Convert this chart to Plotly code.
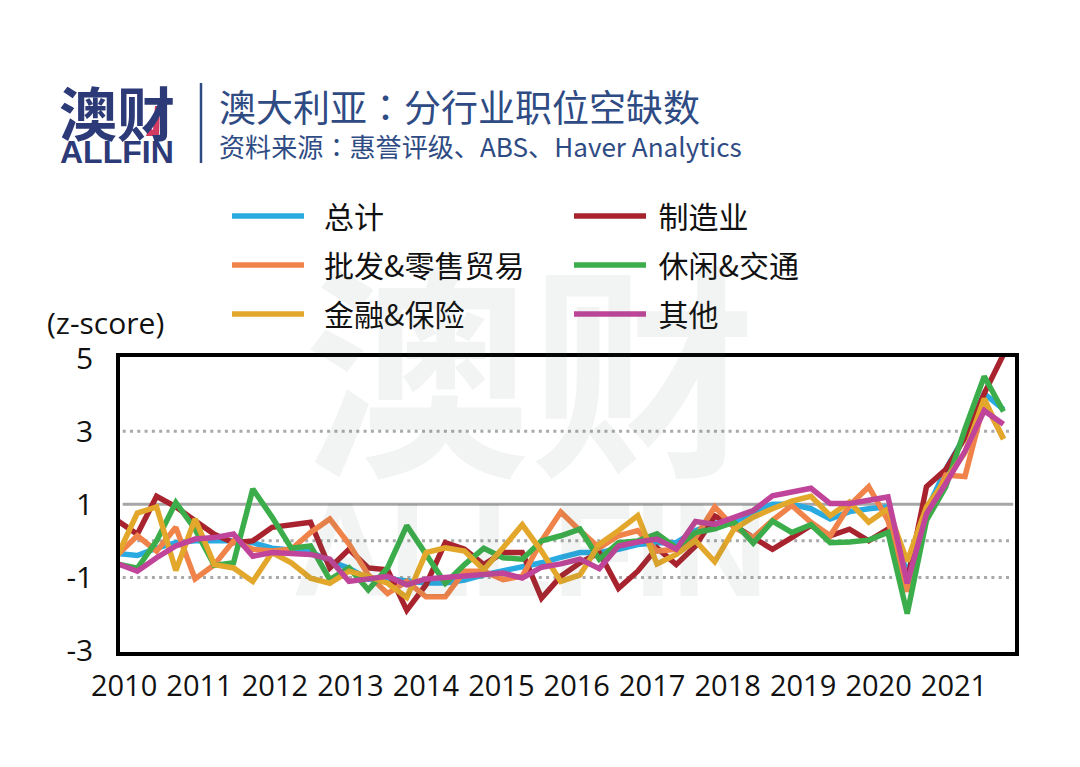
import plotly.graph_objects as go

W, H = 1080, 767
L, R, T, B = 120, 65, 357, 115
quarters = list(range(47))  # 2010Q1 .. 2021Q3
year_labels = ["2010","2011","2012","2013","2014","2015","2016","2017","2018","2019","2020","2021"]
y_ticks = [5, 3, 1, -1, -3]

total = [-0.35,-0.4,-0.2,-0.05,0.0,0.0,0.0,-0.05,-0.2,-0.25,-0.3,-0.55,-0.75,-1.05,-1.03,-1.1,-1.15,-1.15,-1.07,-0.93,-0.83,-0.72,-0.6,-0.45,-0.32,-0.32,-0.23,-0.1,-0.05,-0.05,0.28,0.48,0.5,0.8,1.0,1.0,0.88,0.6,0.8,0.88,0.93,-0.93,0.83,1.95,2.87,4.03,3.6]
manufacturing = [0.54,0.18,1.22,0.93,0.55,0.18,-0.05,0.0,0.37,0.44,0.51,-0.74,-0.23,-0.74,-0.79,-1.9,-1.2,-0.05,-0.23,-0.65,-0.32,-0.32,-1.57,-0.97,-0.6,-0.32,-1.3,-0.83,-0.19,-0.65,-0.14,0.68,0.42,0.09,-0.23,0.09,0.42,0.14,0.32,0.0,0.32,-1.11,1.48,1.95,2.82,4.03,5.1]
retail = [-0.37,0.14,-0.28,0.37,-1.04,-0.65,0.0,-0.23,-0.28,-0.23,0.23,0.6,-0.09,-0.93,-1.44,-1.11,-1.53,-1.53,-0.83,-0.83,-1.06,-0.97,0.0,0.79,0.28,-0.19,0.14,0.28,-0.28,-0.23,0.09,0.93,0.37,0.09,0.56,0.97,0.51,0.14,0.97,1.48,0.56,-1.39,0.65,1.8,1.76,3.8,2.8]
leisure = [-0.64,-0.75,0.0,1.05,0.32,-0.67,-0.6,1.42,0.65,-0.2,-0.14,-1.06,-0.74,-1.34,-0.74,0.42,-0.37,-1.16,-0.65,-0.2,-0.46,-0.5,0.0,0.14,0.32,-0.5,-0.05,0.0,0.19,-0.19,0.23,0.33,0.51,-0.06,0.54,0.23,0.44,-0.05,-0.03,0.02,0.23,-1.99,0.56,1.48,3.06,4.5,3.54]
finance = [-0.37,0.76,0.93,-0.81,0.6,-0.65,-0.74,-1.11,-0.32,-0.6,-1.02,-1.16,-0.83,-0.97,-1.16,-1.55,-0.32,-0.19,-0.28,-0.79,-0.19,0.44,-0.28,-1.11,-0.93,-0.09,0.28,0.69,-0.63,-0.37,0.0,-0.57,0.32,0.65,0.88,1.09,1.22,0.69,1.06,0.51,0.88,-0.56,0.93,1.67,2.41,3.89,2.78]
other = [-0.63,-0.83,-0.46,-0.14,0.05,0.09,0.19,-0.42,-0.32,-0.34,-0.37,-0.5,-1.11,-1.04,-0.97,-1.2,-1.04,-1.0,-0.95,-0.93,-0.88,-1.02,-0.72,-0.63,-0.5,-0.76,-0.14,-0.03,0.05,-0.23,0.53,0.45,0.65,0.83,1.23,1.32,1.44,1.02,1.02,1.11,1.2,-1.16,0.74,1.57,2.45,3.56,3.19]

series = [
    ("总计", total, "#29abe2", "legend"),
    ("制造业", manufacturing, "#a8232e", "legend2"),
    ("批发&零售贸易", retail, "#f0834a", "legend"),
    ("休闲&交通", leisure, "#3bad4a", "legend2"),
    ("金融&保险", finance, "#e3a82b", "legend"),
    ("其他", other, "#c0449a", "legend2"),
]

CJK = "Noto Sans CJK SC"
NAVY = "#2f4b84"
LOGO = "#2c3a78"
LEAD = {"legend": "\u2002", "legend2": "\u2005"}

fig = go.Figure()
for name, vals, color, leg in series:
    fig.add_trace(go.Scatter(x=quarters, y=vals, mode="lines", name=LEAD[leg] + name,
                             legend=leg, legendgroup=name,
                             line=dict(color=color, width=5.5, shape="linear")))

def px(x): return (x - L) / (W - L - R)
def py(y): return ((H - B) - y) / (H - T - B)

def note(text, x, y, size, color, anchor="left", family=CJK):
    fig.add_annotation(text=text, x=px(x), y=py(y), xref="paper", yref="paper",
                       xanchor=anchor, yanchor="middle", showarrow=False,
                       font=dict(family=family, size=size, color=color))

# watermark
note("<b>澳财</b>", 530, 360, 226, "rgba(70,100,90,0.07)", "center")
note("<b>ALLFIN</b>", 530, 549, 134, "rgba(70,100,90,0.07)", "center", "Liberation Sans")

# header
TC_COLON = "<span style=\"font-family:'Noto Sans CJK TC'\">：</span>"
note("<b>澳财</b>", 117, 111, 58, LOGO, "center")
note("<b>ALLFIN</b>", 117, 152, 32, LOGO, "center", "Liberation Sans")
note("澳大利亚" + TC_COLON + "分行业职位空缺数", 217, 106, 37, NAVY)
note("资料来源" + TC_COLON + "惠誉评级、ABS、Haver Analytics", 217, 146, 26.1, NAVY)
note("(z-score)", 105, 322, 30, "#111111", "center", "Open Sans")

shapes = [
    dict(type="line", xref="paper", yref="paper", x0=px(201), x1=px(201), y0=py(83), y1=py(163),
         line=dict(color=NAVY, width=2.5)),
    dict(type="path", xref="paper", yref="paper", fillcolor="#d23a62", line=dict(width=0),
         path=f"M {px(155)} {py(106)} L {px(160)} {py(106)} L {px(159)} {py(136)} L {px(146)} {py(136)} L {px(149)} {py(127)} L {px(153)} {py(130)} Z"),
]
for val, dash, col, wid in [(3, "3px,4.3px", "#a9a9a9", 3), (0, "3px,4.3px", "#a9a9a9", 3),
                            (-1, "3px,4.3px", "#a9a9a9", 3), (1, "solid", "#a6a6a6", 3)]:
    shapes.append(dict(type="line", xref="x domain", yref="y", x0=0.003, x1=0.998, y0=val, y1=val,
                       layer="below", line=dict(color=col, width=wid, dash=dash)))

legend_common = dict(orientation="v", itemwidth=72, tracegroupgap=7, xanchor="left", yanchor="top",
                     bgcolor="rgba(0,0,0,0)", borderwidth=0, itemclick=False, itemdoubleclick=False,
                     font=dict(family=CJK, size=30, color="#111111"))

fig.update_layout(
    width=W, height=H, paper_bgcolor="white", plot_bgcolor="rgba(0,0,0,0)",
    margin=dict(l=L, r=R, t=T, b=B, autoexpand=False, pad=0),
    font=dict(family="Open Sans", size=29, color="#111111"),
    showlegend=True,
    legend=dict(x=px(227), y=py(190), **legend_common),
    legend2=dict(x=px(569), y=py(190), **legend_common),
    shapes=shapes,
    xaxis=dict(range=[0.1, 46.6], tickmode="array",
               tickvals=[0.31 + 3.92 * k for k in range(len(year_labels))], ticktext=year_labels,
               showgrid=False, zeroline=False, ticks="outside", ticklen=5, tickcolor="rgba(0,0,0,0)",
               showline=True, mirror=True, linecolor="black", linewidth=3.5,
               tickfont=dict(family="Open Sans", size=29, color="#111111")),
    yaxis=dict(range=[-3.04, 5.03], tickmode="array", tickvals=y_ticks, ticktext=[str(v) for v in y_ticks],
               showgrid=False, zeroline=False, ticks="outside", ticklen=17, tickcolor="rgba(0,0,0,0)",
               showline=True, mirror=True, linecolor="black", linewidth=3.5,
               tickfont=dict(family="Open Sans", size=30, color="#111111")),
)

fig.write_html("out.html", config=dict(displayModeBar=False), post_script="document.body.style.margin='0';")
